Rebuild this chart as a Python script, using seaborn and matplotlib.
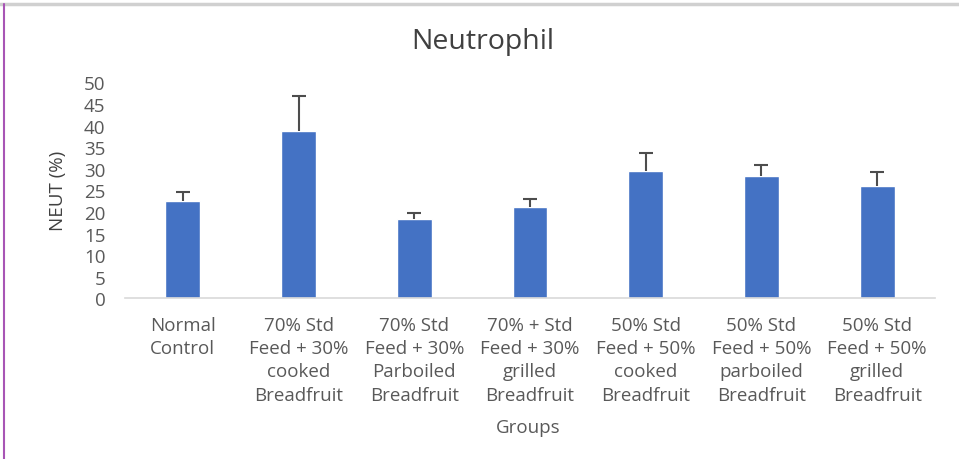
import numpy as np
import pandas as pd
import seaborn as sns
import matplotlib.pyplot as plt
from matplotlib.lines import Line2D

# values
groups = ['Normal\nControl',
          '70% Std\nFeed + 30%\ncooked\nBreadfruit',
          '70% Std\nFeed + 30%\nParboiled\nBreadfruit',
          '70% + Std\nFeed + 30%\ngrilled\nBreadfruit',
          '50% Std\nFeed + 50%\ncooked\nBreadfruit',
          '50% Std\nFeed + 50%\nparboiled\nBreadfruit',
          '50% Std\nFeed + 50%\ngrilled\nBreadfruit']
neut = [22.6, 38.7, 18.4, 21.2, 29.5, 28.4, 25.9]
neut_err = [2.1, 8.1, 1.4, 1.9, 4.1, 2.5, 3.3]
y_ticks = [0, 5, 10, 15, 20, 25, 30, 35, 40, 45, 50]

sns.set_theme(style='white')
plt.rcParams['font.family'] = ['Open Sans', 'DejaVu Sans']

df = pd.DataFrame({'Group': groups, 'NEUT': neut})

fig = plt.figure(figsize=(9.59, 4.6), dpi=100)
ax = fig.add_axes([0.1303, 0.3493, 0.8447, 0.4696])

sns.barplot(data=df, x='Group', y='NEUT', color='#4472C4', saturation=1,
            width=0.3, errorbar=None, ax=ax)

# upper-only error bars, placed at the bar centres
centers = [p.get_x() + p.get_width() / 2 for p in ax.patches]
eb = ax.errorbar(centers, neut, yerr=[np.zeros(len(neut)), neut_err], fmt='none',
                 ecolor='#4d4d4d', elinewidth=1.5, capsize=5, capthick=1.5)
# hide the cap that sits on top of the bar
eb[1][0].set_visible(False)

ax.set_ylim(0, 50)
ax.set_xlim(-0.5, len(groups) - 0.5)
ax.set_yticks(y_ticks)
ax.tick_params(axis='both', length=0)
ax.tick_params(axis='y', labelsize=13.5, labelcolor='#595959', pad=14)
ax.tick_params(axis='x', labelsize=13.5, labelcolor='#595959', pad=12.5)
for lbl in ax.get_xticklabels():
    lbl.set_linespacing(1.38)

for s in ['top', 'right', 'left']:
    ax.spines[s].set_visible(False)
ax.spines['bottom'].set_color('#d9d9d9')
ax.spines['bottom'].set_linewidth(1.2)

ax.set_xlabel('Groups', fontsize=13.5, color='#595959')
ax.set_ylabel('NEUT (%)', fontsize=13.5, color='#404040')
ax.yaxis.set_label_coords(-0.072, 0.5)
ax.xaxis.set_label_coords(0.498, -0.555)

fig.text(0.503, 0.908, 'Neutrophil', ha='center', va='center', fontsize=20.5, color='#404040')

# page frame bits seen in the screenshot
fig.add_artist(Line2D([0, 1], [0.989, 0.989], transform=fig.transFigure, color='#d0d0d0', lw=2.5))
fig.add_artist(Line2D([0.004, 0.004], [0, 0.989], transform=fig.transFigure, color='#a855b5', lw=1.5))

fig.savefig('out.png', dpi=100)
